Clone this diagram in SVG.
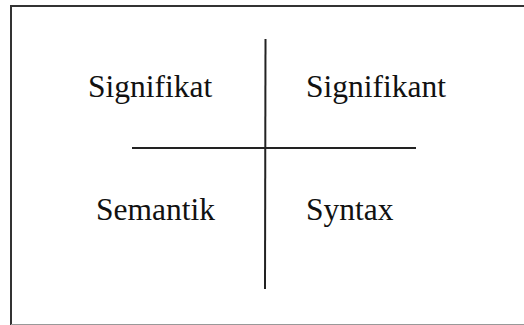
<svg xmlns="http://www.w3.org/2000/svg" width="524" height="325" viewBox="0 0 524 325">
  <style>
    .frame { fill: none; stroke: #333; stroke-width: 2; }
    .axis { stroke: #222; stroke-width: 2; fill: none; }
    .lbl { font-family: "Liberation Serif", "Times New Roman", serif; font-size: 31.5px; fill: #111; }
  </style>
  <rect width="524" height="325" fill="#fff"/>
  <!-- outer frame -->
  <path class="frame" d="M526 6 H11 V326"/>
  <line x1="11" y1="324.5" x2="526" y2="324.5" stroke="#999" stroke-width="1"/>
  <g id="connectors">
    <line class="axis" x1="265.5" y1="39" x2="265" y2="289" stroke="#444"/>
    <line class="axis" x1="132" y1="148" x2="416" y2="148"/>
  </g>
  <g id="signifikat"><text class="lbl" x="88" y="97">Signifikat</text></g>
  <g id="signifikant"><text class="lbl" x="306" y="97">Signifikant</text></g>
  <g id="semantik"><text class="lbl" x="96" y="220">Semantik</text></g>
  <g id="syntax"><text class="lbl" x="306" y="220">Syntax</text></g>
</svg>
